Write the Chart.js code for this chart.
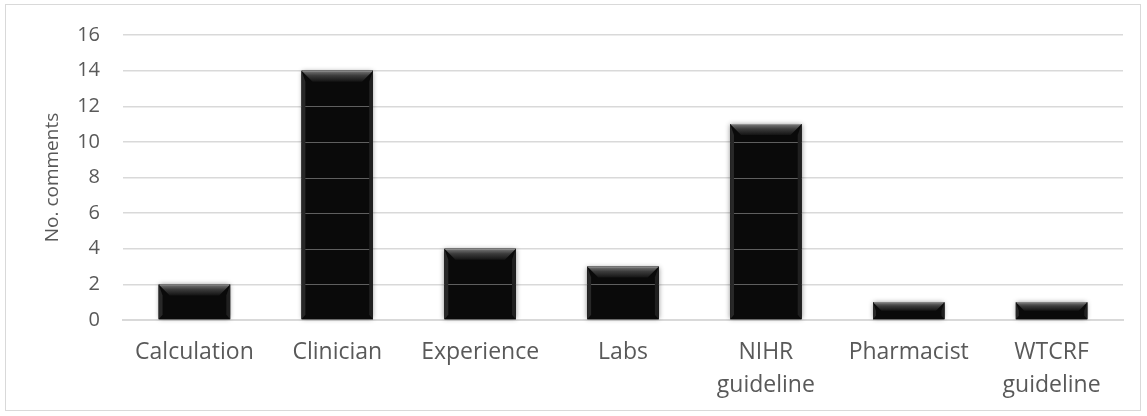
<!DOCTYPE html>
<html>
<head>
<meta charset="utf-8">
<script src="https://cdn.jsdelivr.net/npm/chart.js@4/dist/chart.umd.min.js"></script>
<style>
  html, body { margin: 0; padding: 0; background: #fff; }
  #wrap { width: 1147px; height: 416px; position: relative; }
</style>
</head>
<body>
<div id="wrap"><canvas id="c" width="1147" height="416"></canvas></div>
<script>
const categories = ["Calculation", ["Clinician"], "Experience", "Labs", ["NIHR", "guideline"], "Pharmacist", ["WTCRF", "guideline"]];
const comments = [2, 14, 4, 3, 11, 1, 1];
const yTicks = [0, 2, 4, 6, 8, 10, 12, 14, 16];
const yTitle = "No. comments";

const textColor = "#595959";
const gridColor = "#d9d9d9";

const borderPlugin = {
  id: "outerBorder",
  beforeDraw(chart) {
    const ctx = chart.ctx;
    ctx.save();
    ctx.fillStyle = "#fff";
    ctx.fillRect(0, 0, chart.width, chart.height);
    ctx.strokeStyle = gridColor;
    ctx.lineWidth = 1;
    ctx.strokeRect(5.5, 4.5, 1135, 406);
    ctx.restore();
  }
};

const bevelPlugin = {
  id: "bevel",
  beforeDatasetsDraw(chart) {
    const ctx = chart.ctx;
    const meta = chart.getDatasetMeta(0);
    ctx.save();
    meta.data.forEach(bar => {
      const { x, y, base, width } = bar.getProps(["x", "y", "base", "width"], true);
      const l = x - width / 2;
      ctx.shadowColor = "rgba(0,0,0,0.45)";
      ctx.shadowBlur = 5;
      ctx.fillStyle = "#0a0a0a";
      ctx.fillRect(l, y, width, base - y);
    });
    ctx.restore();
  },
  afterDatasetsDraw(chart) {
    const ctx = chart.ctx;
    const meta = chart.getDatasetMeta(0);
    const yScale = chart.scales.y;
    ctx.save();
    meta.data.forEach(bar => {
      const { x, y, base, width } = bar.getProps(["x", "y", "base", "width"], true);
      const l = x - width / 2, r = x + width / 2;
      const h = base - y;
      const b = Math.min(11, h / 2, width / 2);
      ctx.strokeStyle = "rgba(255,255,255,0.35)";
      ctx.lineWidth = 1;
      yTicks.forEach(t => {
        const py = Math.round(yScale.getPixelForValue(t)) + 0.5;
        if (py > y + b && py < base - 2) {
          ctx.beginPath();
          ctx.moveTo(l, py);
          ctx.lineTo(r, py);
          ctx.stroke();
        }
      });
      const g = ctx.createLinearGradient(0, y, 0, y + b);
      g.addColorStop(0, "#7a7a7a");
      g.addColorStop(0.45, "#3c3c3c");
      g.addColorStop(1, "#141414");
      ctx.fillStyle = g;
      ctx.beginPath();
      ctx.moveTo(l, y);
      ctx.lineTo(r, y);
      ctx.lineTo(r - b, y + b);
      ctx.lineTo(l + b, y + b);
      ctx.closePath();
      ctx.fill();
      ctx.fillStyle = "#282828";
      ctx.beginPath();
      ctx.moveTo(l, y);
      ctx.lineTo(l + b * 0.35, y + b);
      ctx.lineTo(l + b * 0.35, base - b * 0.4);
      ctx.lineTo(l, base);
      ctx.closePath();
      ctx.fill();
      ctx.fillStyle = "#202020";
      ctx.beginPath();
      ctx.moveTo(r, y);
      ctx.lineTo(r - b * 0.35, y + b);
      ctx.lineTo(r - b * 0.35, base - b * 0.4);
      ctx.lineTo(r, base);
      ctx.closePath();
      ctx.fill();
      ctx.strokeStyle = "rgba(150,150,150,0.85)";
      ctx.beginPath();
      ctx.moveTo(l + 1, y + 0.5);
      ctx.lineTo(r - 1, y + 0.5);
      ctx.stroke();
    });
    ctx.restore();
  }
};

new Chart(document.getElementById("c"), {
  type: "bar",
  data: {
    labels: categories,
    datasets: [{
      label: yTitle,
      data: comments,
      backgroundColor: "#0a0a0a",
      borderWidth: 0,
      barPercentage: 0.5,
      categoryPercentage: 1.0
    }]
  },
  options: {
    responsive: false,
    animation: false,
    devicePixelRatio: 1,
    layout: { padding: { left: 37, right: 24, top: 33, bottom: 0 } },
    plugins: {
      legend: { display: false },
      tooltip: { enabled: false }
    },
    scales: {
      x: {
        grid: { display: false, drawTicks: false },
        border: { display: true, color: gridColor, width: 2 },
        ticks: {
          color: textColor,
          font: { family: "'Open Sans'", size: 23, lineHeight: 1.43 },
          padding: 16,
          maxRotation: 0,
          autoSkip: false
        },
        afterFit(scale) { scale.height = 96; }
      },
      y: {
        min: 0,
        max: 16,
        afterBuildTicks(scale) { scale.ticks = yTicks.map(v => ({ value: v })); },
        grid: { color: gridColor, lineWidth: 1.5, drawTicks: false },
        border: { display: false },
        ticks: {
          color: textColor,
          font: { family: "'Open Sans'", size: 20 },
          padding: 23
        },
        title: {
          display: true,
          text: yTitle,
          color: textColor,
          font: { family: "'Open Sans'", size: 19 },
          padding: { top: 4, bottom: 4 }
        },
        afterFit(scale) { scale.width = 86; }
      }
    }
  },
  plugins: [borderPlugin, bevelPlugin]
});
</script>
</body>
</html>
